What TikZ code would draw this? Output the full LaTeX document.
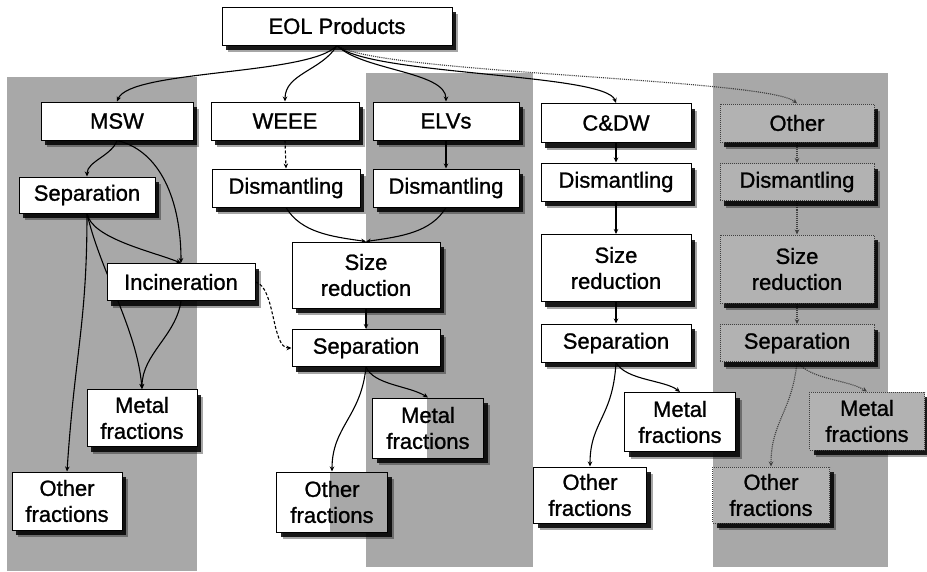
\documentclass[tikz,border=0pt]{standalone}
\usepackage{fontspec}
\setmainfont{Liberation Sans}
\newfontfamily\boxfont{Liberation Sans}[FakeBold=1.1]
\usetikzlibrary{shadows,arrows.meta}
\pgfdeclarelayer{bg}
\pgfdeclarelayer{lines}
\pgfsetlayers{bg,lines,main}
\definecolor{colgrey}{gray}{0.66}
\definecolor{ghostgrey}{gray}{0.70}
\tikzset{
  box/.style={draw=black, line width=1pt, fill=white, align=center,
    font=\boxfont\fontsize{22}{26}\selectfont, inner sep=0pt,
    drop shadow={shadow xshift=6pt, shadow yshift=-7pt, opacity=0.35, fill=black},
    drop shadow={shadow xshift=4pt, shadow yshift=-5pt, opacity=0.85, fill=black}},
  sz/.style 2 args={minimum width=#1pt, minimum height=#2pt},
  ghost/.style={box, fill=ghostgrey, draw=black!75, densely dotted},
  halfgrey/.style={path picture={\fill[colgrey]
      ([xshift=#1pt]path picture bounding box.south west)
      rectangle (path picture bounding box.north east);}},
  link/.style={line width=1.1pt, -{Stealth[length=5pt,width=4.5pt]}},
  dlink/.style={link, densely dashed},
  olink/.style={link, densely dotted, draw=black!75},
}
\begin{document}
\begin{tikzpicture}[x=1pt,y=-1pt]
\useasboundingbox (0,0) rectangle (927,571);

% shaded columns behind the chains
\begin{pgfonlayer}{bg}
  \fill[white] (0,0) rectangle (927,571);
  \fill[colgrey] (7,77) rectangle (197,571);
  \fill[colgrey] (366,73) rectangle (533,567);
  \fill[colgrey] (713,73) rectangle (888,567);
\end{pgfonlayer}

% top level
\node[box, sz={230}{38}] (eol) at (337,26) {EOL Products};

% product streams
\node[box, sz={152}{38}] (msw)  at (117,121) {MSW};
\node[box, sz={148}{38}] (weee) at (285,121) {WEEE};
\node[box, sz={146}{38}] (elv)  at (446,121) {ELVs};
\node[box, sz={150}{39}] (cdw)  at (616,123) {C\&DW};
\node[ghost, sz={154}{38}] (oth) at (797,123) {Other};

% MSW chain
\node[box, sz={136}{36}] (msep) at (87,195)  {Separation};
\node[box, sz={148}{37}] (minc) at (181,282) {Incineration};
\node[box, sz={110}{57}] (mmet) at (142,418) {Metal\\fractions};
\node[box, sz={110}{58}] (moth) at (67,501)  {Other\\fractions};

% WEEE / ELVs chain
\node[box, sz={148}{38}] (wdis) at (286,188) {Dismantling};
\node[box, sz={146}{38}] (edis) at (446,188) {Dismantling};
\node[box, sz={148}{66}] (size) at (366,275) {Size\\reduction};
\node[box, sz={148}{37}] (sep)  at (366,348) {Separation};
\node[box, halfgrey=54, sz={111}{60}] (wmet) at (428,428) {Metal\\fractions};
\node[box, halfgrey=53, sz={111}{60}] (woth) at (332,502) {Other\\fractions};

% C&DW chain
\node[box, sz={150}{38}] (cdis)  at (616,182) {Dismantling};
\node[box, sz={150}{67}] (csize) at (616,268) {Size\\reduction};
\node[box, sz={150}{38}] (csep)  at (616,343) {Separation};
\node[box, sz={111}{59}] (cmet)  at (680,422) {Metal\\fractions};
\node[box, sz={113}{56}] (coth)  at (590,495) {Other\\fractions};

% other products chain
\node[ghost, sz={154}{37}] (odis)  at (797,182) {Dismantling};
\node[ghost, sz={154}{68}] (osize) at (797,269) {Size\\reduction};
\node[ghost, sz={154}{37}] (osep)  at (797,343) {Separation};
\node[ghost, sz={115}{58}] (omet)  at (867,421) {Metal\\fractions};
\node[ghost, sz={117}{56}] (ooth)  at (771,495) {Other\\fractions};

\begin{pgfonlayer}{lines}
  % from EOL products to the streams
  \draw[link] (eol.south) .. controls +(-27,30) and +(13,-32) .. (msw.north);
  \draw[link] (eol.south) .. controls +(-15,25) and +(0,-28) .. (weee.north);
  \draw[link] (eol.south) .. controls +(25,25) and +(0,-30) .. (elv.north);
  \draw[link] (eol.south) .. controls +(30,30) and +(-10,-30) .. (cdw.north);
  \draw[olink] (eol.south) .. controls +(40,28) and +(-30,-25) .. (oth.north);

  % MSW
  \draw[link] (msw.south) .. controls +(-5,15) and +(0,-15) .. (msep.north);
  \draw[link] (msw.south) .. controls +(43,10) and +(0,-63) .. (minc.north);
  \draw[link] (msep.south) .. controls +(5,25) and +(-30,-12) .. (minc.north);
  \draw[link] (msep.south) .. controls +(13,57) and +(-5,-60) .. (mmet.north);
  \draw[link] (msep.south) .. controls +(0,110) and +(8,-120) .. (moth.north);
  \draw[link] (minc.south) .. controls +(-5,35) and +(0,-35) .. (mmet.north);
  \draw[link, densely dashed] (minc.east) .. controls +(20,5) and +(-20,0) .. (sep.west);

  % WEEE / ELVs
  \draw[dlink] (weee.south) -- (wdis.north);
  \draw[link] (elv.south) -- (edis.north);
  \draw[link] (wdis.south) .. controls +(15,25) and +(-35,-5) .. (size.north);
  \draw[link] (edis.south) .. controls +(-15,25) and +(35,-5) .. (size.north);
  \draw[link] (size.south) -- (sep.north);
  \draw[link] (sep.south) .. controls +(8,18) and +(-20,-12) .. (wmet.north);
  \draw[link] (sep.south) .. controls +(-5,50) and +(0,-45) .. (woth.north);

  % C&DW
  \draw[link] (cdw.south) -- (cdis.north);
  \draw[link] (cdis.south) -- (csize.north);
  \draw[link] (csize.south) -- (csep.north);
  \draw[link] (csep.south) .. controls +(10,18) and +(-15,-12) .. (cmet.north);
  \draw[link] (csep.south) .. controls +(-3,55) and +(0,-45) .. (coth.north);

  % other products
  \draw[olink] (oth.south) -- (odis.north);
  \draw[olink] (odis.south) -- (osize.north);
  \draw[olink] (osize.south) -- (osep.north);
  \draw[olink] (osep.south) .. controls +(15,18) and +(-20,-12) .. (omet.north);
  \draw[olink] (osep.south) .. controls +(-5,50) and +(0,-45) .. (ooth.north);
\end{pgfonlayer}
\end{tikzpicture}
\end{document}
